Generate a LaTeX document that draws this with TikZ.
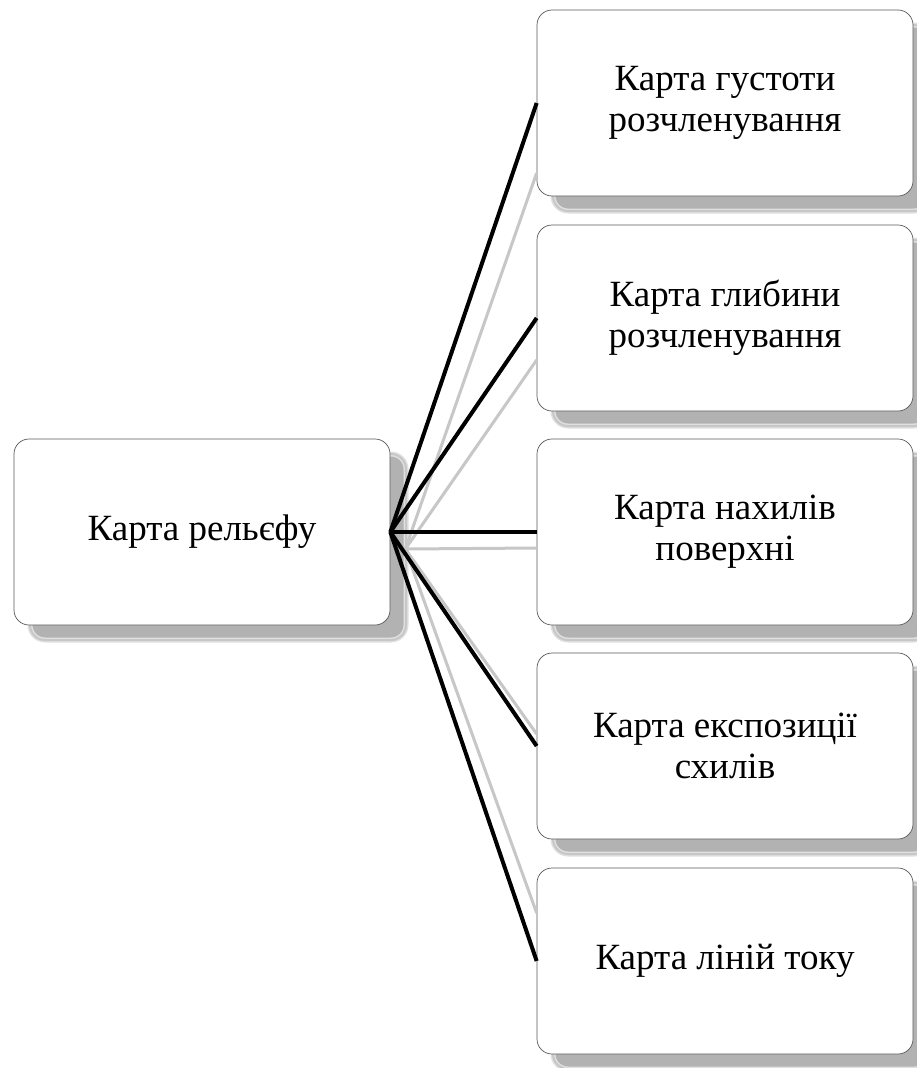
\documentclass[tikz,border=0pt]{standalone}
\usepackage{fontspec}
\newfontfamily\cardfont{Liberation Serif}
\usetikzlibrary{calc}

\tikzset{
  card/.style={
    rectangle, rounded corners=15pt,
    minimum width=376pt, minimum height=186pt,
    inner sep=0pt, align=center,
    fill=white, draw=black!65, line width=0.7pt,
    font=\cardfont\fontsize{37}{41}\selectfont,
    % soft drop shadow, shifted right and down
    preaction={draw=black!12, line width=5pt, fill=black!30,
               transform canvas={xshift=16pt, yshift=-15pt}},
    preaction={draw=black!22, line width=2pt,
               transform canvas={xshift=16pt, yshift=-15pt}}
  },
  link/.style={draw=black, line width=4pt},
  linkshade/.style={draw=black!22, line width=3pt}
}

\begin{document}
\begin{tikzpicture}[x=1pt,y=-1pt]
  % page area
  \fill[white] (0,0) rectangle (917,1068);
  \useasboundingbox (0,0) rectangle (917,1068);

  % boxes
  \node[card] (L)  at (202,532) {Карта рельєфу};
  \node[card] (R1) at (725,103) {Карта густоти\\розчленування};
  \node[card] (R2) at (725,318) {Карта глибини\\розчленування};
  \node[card] (R3) at (725,532) {Карта нахилів\\поверхні};
  \node[card] (R4) at (725,746) {Карта експозиції\\схилів};
  \node[card] (R5) at (725,961) {Карта ліній току};

  % shaded copies of the connectors
  \coordinate (S) at ($(L.east)+(15,17)$);
  \draw[linkshade] (S) -- ($(R1.west)+(0,70)$);
  \draw[linkshade] (S) -- ($(R2.west)+(0,42)$);
  \draw[linkshade] (S) -- ($(R3.west)+(0,16)$);
  \draw[linkshade] (S) -- ($(R4.west)+(0,-12)$);
  \draw[linkshade] (S) -- ($(R5.west)+(0,-48)$);

  % connectors
  \foreach \r in {R1,R2,R3,R4,R5}
    \draw[link] (L.east) -- (\r.west);
\end{tikzpicture}
\end{document}
